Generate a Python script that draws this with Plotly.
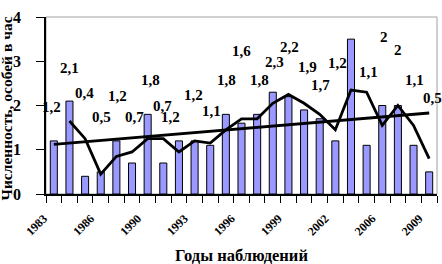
import plotly.graph_objects as go

# ---- data ----
years = ["1983", "1984", "1985", "1986", "1987", "1988", "1990", "1991", "1992",
         "1993", "1994", "1995", "1996", "1997", "1998", "1999", "2000", "2001",
         "2002", "2003", "2004", "2006", "2007", "2008", "2009"]
counts = [1.2, 2.1, 0.4, 0.5, 1.2, 0.7, 1.8, 0.7, 1.2, 1.2, 1.1, 1.8, 1.6,
          1.8, 2.3, 2.2, 1.9, 1.7, 1.2, 3.5, 1.1, 2.0, 2.0, 1.1, 0.5]
# 2-period moving average (as drawn in the picture)
moving_avg = [None, 1.65, 1.25, 0.45, 0.85, 0.95, 1.25, 1.25, 0.95, 1.2, 1.15,
              1.45, 1.7, 1.7, 2.05, 2.25, 2.05, 1.8, 1.45, 2.35, 2.3, 1.55,
              2.0, 1.55, 0.8]
# linear trend end values
trend_ends = [1.12, 1.83]
shown_years = ["1983", "1986", "1990", "1993", "1996", "1999", "2002", "2006", "2009"]

# ---- label placement (x offset in categories from the bar, y in axis units) ----
label_dx = [-0.18, 0.03, -0.01, 0.08, 0.04, 0.13, 0.15, -0.08, -0.55, -0.04,
            0.05, 0.07, 0.03, 0.12, 0.08, 0.1, 0.19, 0.02, 0.11, 0.0, 0.09,
            0.11, 0.01, 0.03, 0.18]
label_y = [1.97, 2.85, 2.29, 1.74, 2.22, 1.74, 2.58, 1.99, 1.74, 2.24, 1.88,
           2.58, 3.23, 2.58, 2.98, 3.32, 2.87, 2.46, 2.96, 4.23, 2.76, 3.54,
           3.26, 2.58, 2.17]

SERIF = "Liberation Serif, Times New Roman, serif"
pos = list(range(len(years)))  # category slots

fig = go.Figure()
fig.add_trace(go.Bar(
    x=pos, y=counts, width=0.45,
    marker=dict(color="#9999FF", line=dict(color="black", width=1)),
    showlegend=False, hoverinfo="skip"))
fig.add_trace(go.Scatter(
    x=pos, y=moving_avg, mode="lines",
    line=dict(color="black", width=2.8), connectgaps=False,
    showlegend=False, hoverinfo="skip"))
fig.add_trace(go.Scatter(
    x=[pos[0], pos[-1]], y=trend_ends, mode="lines",
    line=dict(color="black", width=2.8),
    showlegend=False, hoverinfo="skip"))

for i, v in enumerate(counts):
    txt = f"{v:g}".replace(".", ",")
    fig.add_annotation(x=pos[i] + label_dx[i], y=label_y[i], text=txt,
                       showarrow=False, xref="x", yref="y",
                       font=dict(family=SERIF, size=15, color="black",
                                 weight="bold"))

# axis titles
fig.add_annotation(text="Годы наблюдений", xref="paper", yref="paper",
                   x=0.5, y=0, yshift=-61, xanchor="center", yanchor="middle",
                   showarrow=False,
                   font=dict(family=SERIF, size=16.5, color="black", weight="bold"))
fig.add_annotation(text="Численность, особей в час", xref="paper", yref="paper",
                   x=0, y=0.5, xshift=-40, yshift=-3, textangle=-90,
                   xanchor="center", yanchor="middle", showarrow=False,
                   font=dict(family=SERIF, size=15.5, color="black", weight="bold"))

# gray frame (top / right)
fig.add_shape(type="rect", xref="paper", yref="paper", x0=0, y0=0, x1=1, y1=1,
              line=dict(color="#a0a0a0", width=1), layer="below")

fig.update_layout(
    width=442, height=264,
    margin=dict(l=46, r=5, t=17, b=70),
    paper_bgcolor="white", plot_bgcolor="white",
    font=dict(family=SERIF, color="black"),
    xaxis=dict(
        type="linear", range=[-0.5, len(years) - 0.5],
        tickmode="array",
        tickvals=[p for p, y in zip(pos, years) if y in shown_years],
        ticktext=[y for y in years if y in shown_years],
        ticks="outside", ticklen=7, tickcolor="rgba(0,0,0,0)",
        tickangle=-45, ticklabelshift=-10, ticklabelstandoff=4,
        tickfont=dict(family=SERIF, size=12, color="black", weight="bold"),
        minor=dict(tickmode="array",
                   tickvals=[p - 0.5 for p in pos] + [pos[-1] + 0.5],
                   ticks="outside", ticklen=7, tickcolor="black", tickwidth=1,
                   showgrid=False),
        showline=True, linecolor="black", linewidth=1.5,
        showgrid=False, zeroline=False,
    ),
    yaxis=dict(
        range=[0, 4], tickvals=[0, 1, 2, 3, 4],
        ticks="outside", ticklen=8, tickcolor="black", tickwidth=1,
        tickfont=dict(family=SERIF, size=16, color="black", weight="bold"),
        ticklabelstandoff=12,
        showline=True, linecolor="black", linewidth=1.5,
        showgrid=False, zeroline=False,
    ),
)

fig.write_html("out.html",
               config={"displayModeBar": False},
               post_script="document.body.style.margin='0';"
                           "document.body.style.padding='0';")
